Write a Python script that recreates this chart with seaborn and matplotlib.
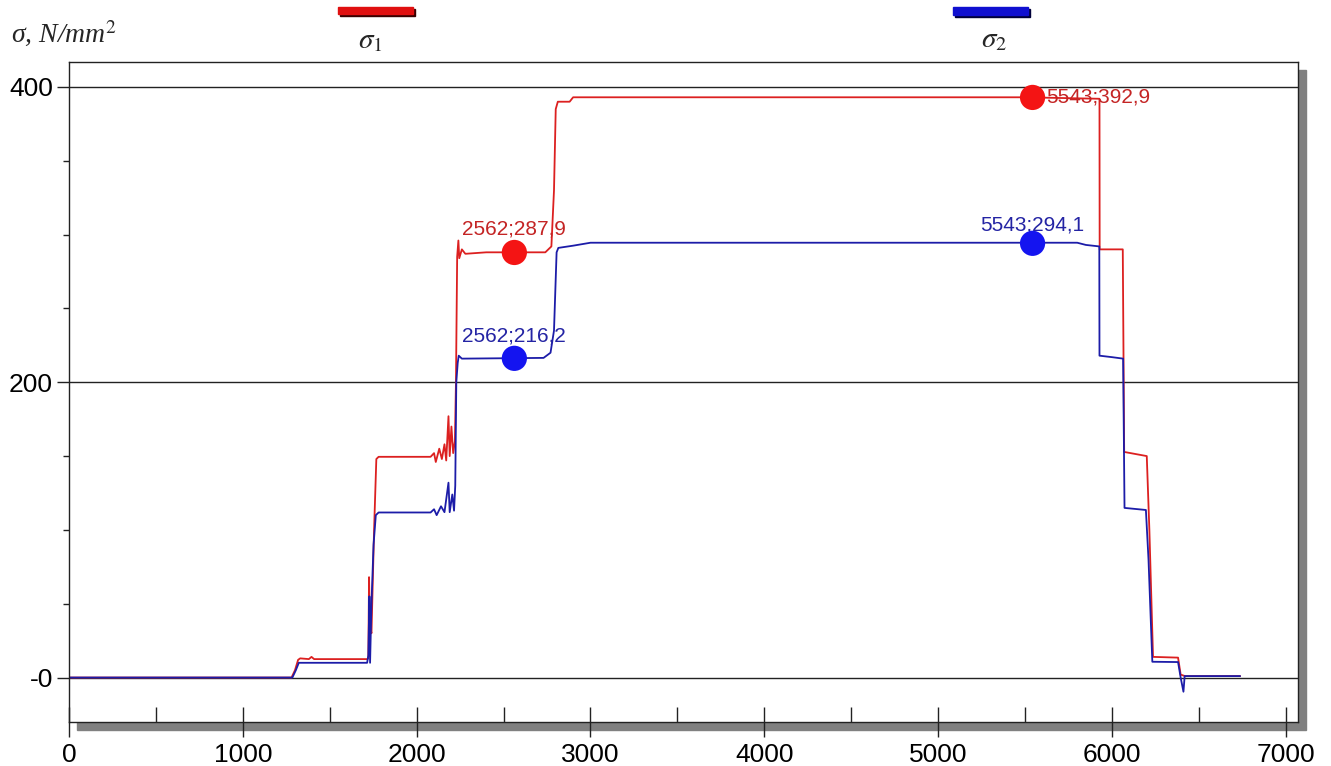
import seaborn as sns
import matplotlib.pyplot as plt
from matplotlib.patches import Rectangle
from matplotlib.ticker import FixedLocator

# sigma_1 (red) - time / stress points
t1 = [0, 1280, 1300, 1318, 1330, 1380, 1395, 1410, 1715, 1722, 1726, 1731, 1740,
      1755, 1768, 1781, 2080, 2100, 2110, 2130, 2145, 2160, 2170, 2183, 2190,
      2200, 2210, 2220, 2226, 2233, 2240, 2245, 2260, 2280, 2400, 2740, 2775,
      2790, 2800, 2812, 2880, 2900, 5500, 5928, 5929, 6062, 6070, 6200, 6215,
      6236, 6380, 6395, 6420, 6737]
s1 = [0, 0, 5, 12, 13, 12.5, 14, 12.5, 12.5, 13, 68, 35, 30,
      100, 148, 149.5, 149.5, 152, 146, 155, 148, 158, 147, 177, 150,
      170, 152, 160, 200, 285, 296, 284, 290, 287, 288, 288, 292,
      330, 385, 390, 390, 393, 393, 392, 290, 290, 152.8, 150, 100,
      14, 13.5, 2, 1, 1]

# sigma_2 (blue)
t2 = [0, 1285, 1305, 1322, 1715, 1722, 1728, 1732, 1740, 1752, 1765, 1781,
      2080, 2100, 2115, 2140, 2160, 2183, 2190, 2205, 2215, 2222, 2228, 2236,
      2242, 2260, 2730, 2770, 2790, 2805, 2815, 2900, 3000, 5800, 5850, 5927,
      5928, 6000, 6064, 6072, 6195, 6210, 6232, 6380, 6395, 6411, 6418, 6737]
s2 = [0, 0, 5, 10, 10, 15, 55, 10, 50, 90, 110, 111.8,
      111.8, 114, 110, 116, 112, 132, 112, 124, 113, 130, 200, 213,
      218, 216, 216.5, 220, 235, 288, 291, 292.5, 294.5, 294.5, 293, 292,
      218, 217, 216, 114.9, 113.5, 80, 10.7, 10.5, 0, -9.6, 1, 1]

mark_t = [2562, 5543]
mark_s1 = [287.9, 392.9]
mark_s2 = [216.2, 294.1]
x_ticks = [0, 1000, 2000, 3000, 4000, 5000, 6000, 7000]
x_minor = [500, 1500, 2500, 3500, 4500, 5500, 6500]
y_ticks = [0, 200, 400]
y_labels = ['-0', '200', '400']
y_minor = [50, 100, 150, 250, 300, 350]

RED_LINE = '#dc2020'
BLUE_LINE = '#1c1ca8'
RED_DOT = '#f41414'
BLUE_DOT = '#1414f0'
RED_TXT = '#c42424'
BLUE_TXT = '#2424a4'
DARK = '#222222'

sns.set_theme(style="white")
plt.rcParams['font.family'] = ['Liberation Sans', 'DejaVu Sans']
plt.rcParams['mathtext.fontset'] = 'stix'

W, H = 1331, 766
fig = plt.figure(figsize=(W / 100, H / 100), dpi=100)
fig.patch.set_facecolor('white')

# grey drop shadow behind the plot frame
fig.add_artist(Rectangle((77 / W, 1 - 730 / H), (1306 - 77) / W, (730 - 70) / H,
                         transform=fig.transFigure, color='#808080', zorder=-1))

ax = fig.add_axes([69 / W, 1 - 722 / H, (1298 - 69) / W, (722 - 62) / H])
ax.set_facecolor('white')

sns.lineplot(x=t1, y=s1, ax=ax, color=RED_LINE, lw=1.3, sort=False, estimator=None)
sns.lineplot(x=t2, y=s2, ax=ax, color=BLUE_LINE, lw=1.3, sort=False, estimator=None)
sns.scatterplot(x=mark_t, y=mark_s1, ax=ax, color=RED_DOT, s=330, edgecolor='none', zorder=5)
sns.scatterplot(x=mark_t, y=mark_s2, ax=ax, color=BLUE_DOT, s=330, edgecolor='none', zorder=5)

def lab(t, s):
    return f'{t};{s:.1f}'.replace('.', ',')

ax.annotate(lab(mark_t[0], mark_s1[0]), (mark_t[0], mark_s1[0]), xytext=(0, 17),
            textcoords='offset points', ha='center', va='center', fontsize=15, color=RED_TXT)
ax.annotate(lab(mark_t[0], mark_s2[0]), (mark_t[0], mark_s2[0]), xytext=(0, 16),
            textcoords='offset points', ha='center', va='center', fontsize=15, color=BLUE_TXT)
ax.annotate(lab(mark_t[1], mark_s1[1]), (mark_t[1], mark_s1[1]), xytext=(10, 0),
            textcoords='offset points', ha='left', va='center', fontsize=15, color=RED_TXT)
ax.annotate(lab(mark_t[1], mark_s2[1]), (mark_t[1], mark_s2[1]), xytext=(0, 13),
            textcoords='offset points', ha='center', va='center', fontsize=15, color=BLUE_TXT)

ax.set_xlim(0, 7070)
ax.set_ylim(-30.1, 416.9)
ax.set_xlabel('')
ax.set_ylabel('')

ax.xaxis.set_major_locator(FixedLocator(x_ticks))
ax.xaxis.set_minor_locator(FixedLocator(x_minor))
ax.yaxis.set_major_locator(FixedLocator(y_ticks))
ax.yaxis.set_minor_locator(FixedLocator(y_minor))
ax.set_yticklabels(y_labels)

ax.grid(axis='y', which='major', color=DARK, lw=1)
ax.grid(axis='x', visible=False)
ax.set_axisbelow(True)
for sp in ax.spines.values():
    sp.set_visible(True)
    sp.set_color(DARK)
    sp.set_linewidth(1)

ax.tick_params(axis='x', which='major', direction='inout', length=22, width=1,
               color=DARK, labelsize=19, pad=4, bottom=True, labelcolor='black')
ax.tick_params(axis='x', which='minor', direction='in', length=11, width=1,
               color=DARK, bottom=True)
ax.tick_params(axis='y', which='major', direction='out', length=8.6, width=1,
               color=DARK, labelsize=19, pad=3, left=True, labelcolor='black')
ax.tick_params(axis='y', which='minor', direction='out', length=4.5, width=1,
               color=DARK, left=True)

# legend bars on top
fig.add_artist(Rectangle((340 / W, 1 - 16 / H), 75 / W, 7 / H, color='#3a0000',
                         transform=fig.transFigure))
fig.add_artist(Rectangle((338 / W, 1 - 14 / H), 75 / W, 7 / H, color='#e01010',
                         transform=fig.transFigure))
fig.add_artist(Rectangle((955 / W, 1 - 17 / H), 75 / W, 8 / H, color='#00003a',
                         transform=fig.transFigure))
fig.add_artist(Rectangle((953 / W, 1 - 15 / H), 75 / W, 8 / H, color='#1010d0',
                         transform=fig.transFigure))
fig.text(370 / W, 1 - 40 / H, r'$\sigma_1$', fontsize=21, ha='center', va='center')
fig.text(994 / W, 1 - 39 / H, r'$\sigma_2$', fontsize=21, ha='center', va='center')
fig.text(11 / W, 1 - 34 / H, 'σ, N/mm$^2$', fontsize=20, ha='left', va='center',
         family=['Liberation Serif', 'DejaVu Serif'], style='italic')

fig.savefig('out.png', dpi=100)
